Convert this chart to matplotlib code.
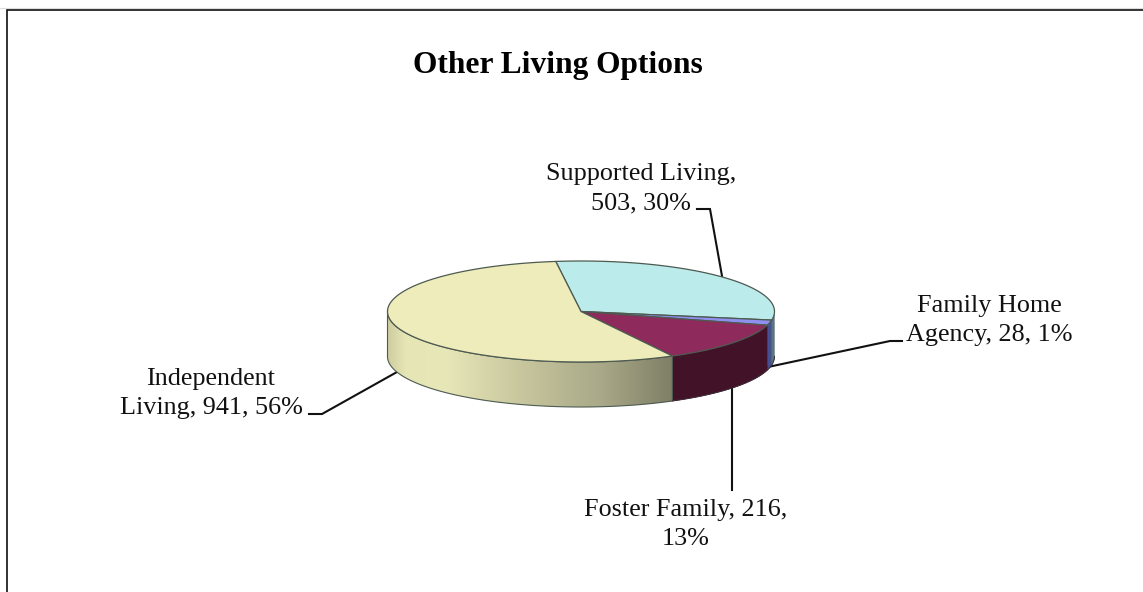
import numpy as np
import matplotlib
matplotlib.use('Agg')
import matplotlib.pyplot as plt
from matplotlib.colors import LinearSegmentedColormap
from matplotlib.patches import Polygon

# data
names = ['Supported Living', 'Family Home Agency', 'Foster Family', 'Independent Living']
values = [503, 28, 216, 941]
label_texts = ['Supported Living,\n503, 30%', 'Family Home\nAgency, 28, 1%',
               'Foster Family, 216,\n13%', 'Independent\nLiving, 941, 56%']
# x centre and baseline of the last line
label_pos = [(641, 209), (989, 341), (685.5, 545), (211, 414)]
leaders = [[(697, 209), (710, 209), (722, 276)],
           [(768, 367), (890, 341), (902, 341)],
           [(732, 388), (732, 490)],
           [(397, 372), (322, 414), (309, 414)]]
top_colors = ['#bbebeb', '#8f8fee', '#8e2a5c', '#eeecba']
side_colors = ['#5c7480', '#44508f', '#421328', None]

# pie geometry in pixels
cx, cy = 581, 311.5
rx, ry = 193.5, 50.5
depth = 45
start = -7.5

plt.rcParams['font.family'] = ['Liberation Serif', 'DejaVu Serif']

fig = plt.figure(figsize=(11.43, 5.92), dpi=100)
ax = fig.add_axes([0, 0, 1, 1])
ax.set_xlim(0, 1143)
ax.set_ylim(592, 0)
ax.axis('off')

# frame, only left and top are in the picture
ax.plot([6.5, 6.5, 1143], [592, 9.5, 9.5], color='#111111', lw=1.2, solid_joinstyle='miter')
ax.plot([0, 1143], [8, 8], color='#dddddd', lw=0.8, zorder=0)


def arc(a0, a1, n=120):
    t = np.radians(np.linspace(a0, a1, n))
    return cx + rx * np.sin(t), cy - ry * np.cos(t)


angles = start + np.concatenate([[0], np.cumsum(values)]) * 360 / sum(values)
edge = '#4d5a50'

# leader lines that sit behind the pie
for pts in leaders:
    xs, ys = zip(*pts)
    ax.plot(xs, ys, color='#111111', lw=1.5, zorder=1, solid_joinstyle='miter')

# side walls, only the front half of the rim shows
for i in range(4):
    a0, a1 = max(angles[i], 90), min(angles[i + 1], 270)
    if a1 <= a0:
        continue
    x, y = arc(a0, a1)
    poly = np.column_stack([np.r_[x, x[::-1]], np.r_[y, y[::-1] + depth]])
    if side_colors[i] is not None:
        ax.add_patch(Polygon(poly, closed=True, fc=side_colors[i], ec=side_colors[i], lw=0.3, zorder=2))
    else:
        cmap = LinearSegmentedColormap.from_list('side', [
            (0.0, '#cfcea0'), (0.06, '#e6e5b6'), (0.2, '#e8e7b8'),
            (0.45, '#c9c89f'), (0.75, '#a9a888'), (1.0, '#7f7f66')])
        patch = Polygon(poly, closed=True, fc='none', ec=edge, lw=0.8, zorder=3)
        ax.add_patch(patch)
        im = ax.imshow(np.linspace(0, 1, 256).reshape(1, -1), cmap=cmap, aspect='auto',
                       extent=[x.min(), x.max(), y.max() + depth, y.min()], zorder=2)
        im.set_clip_path(patch)
        ax.set_xlim(0, 1143)
        ax.set_ylim(592, 0)

# outline of the lower rim on the coloured walls
x, y = arc(90, angles[3])
ax.plot(x, y + depth, color='#3a2a35', lw=0.7, zorder=3)

# top faces
for i in range(4):
    x, y = arc(angles[i], angles[i + 1])
    ax.add_patch(Polygon(np.column_stack([np.r_[cx, x], np.r_[cy, y]]), closed=True,
                         fc=top_colors[i], ec=edge, lw=0.9, zorder=4))

for (x, y), text in zip(label_pos, label_texts):
    ax.text(x, y, text, ha='center', va='baseline', fontsize=18.8, color='#111111',
            linespacing=1.41, multialignment='center', zorder=5)

ax.text(558, 73, 'Other Living Options', ha='center', va='baseline', fontsize=22.6,
        fontweight='bold', color='black', zorder=5)

fig.savefig('out.png', dpi=100)
